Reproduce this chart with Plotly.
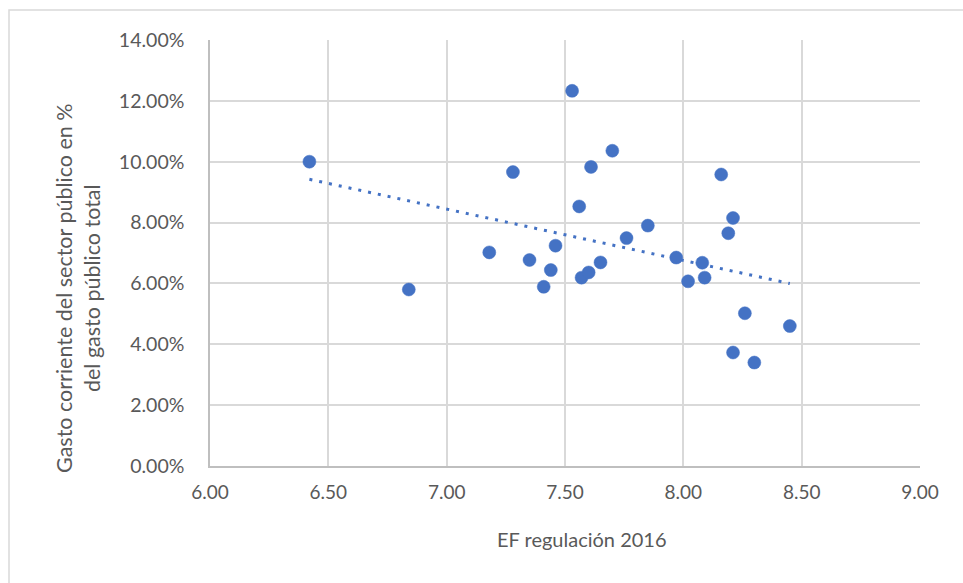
import numpy as np
import plotly.graph_objects as go

# EF regulación 2016 score per country
ef_regulacion = [6.42, 6.84, 7.18, 7.28, 7.35, 7.41, 7.44, 7.46, 7.53, 7.56,
                 7.57, 7.60, 7.61, 7.65, 7.70, 7.76, 7.85, 7.97, 8.02, 8.08,
                 8.09, 8.16, 8.19, 8.21, 8.21, 8.26, 8.30, 8.45]
# Current public-sector spending as % of total public spending
gasto_corriente = [10.00, 5.80, 7.02, 9.66, 6.77, 5.89, 6.44, 7.24, 12.33, 8.53,
                   6.19, 6.36, 9.83, 6.69, 10.36, 7.49, 7.90, 6.85, 6.07, 6.68,
                   6.19, 9.58, 7.65, 8.15, 3.73, 5.02, 3.40, 4.60]

x_ticks = [6.0, 6.5, 7.0, 7.5, 8.0, 8.5, 9.0]
y_ticks = [0, 2, 4, 6, 8, 10, 12, 14]
x_labels = [f"{v:.2f}" for v in x_ticks]
y_labels = [f"{v:.2f}%" for v in y_ticks]

x_title = "EF regulación 2016"
y_title = "Gasto corriente del sector público en %<br>del gasto público total"

BLUE = "#4472C4"
GRID = "#D9D9D9"
TEXT = "#595959"
FONT = "Lato, 'Open Sans', sans-serif"

W, H = 963, 583
ML, MR, MT, MB = 210, 43, 40, 117

# linear trend line over the observed x range
slope, intercept = np.polyfit(ef_regulacion, gasto_corriente, 1)
tx = [min(ef_regulacion), max(ef_regulacion)]
ty = [slope * v + intercept for v in tx]

fig = go.Figure()
fig.add_trace(go.Scatter(
    x=tx, y=ty, mode="lines",
    line=dict(color=BLUE, width=3, dash="3px,7px"),
    hoverinfo="skip", showlegend=False,
))
fig.add_trace(go.Scatter(
    x=ef_regulacion, y=gasto_corriente, mode="markers",
    marker=dict(color=BLUE, size=13, line=dict(color=BLUE, width=0.5)),
    showlegend=False,
))

# helpers: pixel position -> paper coordinates (relative to the plot area)
pw, ph = W - ML - MR, H - MT - MB
def px_to_paper_x(px):
    return (px - ML) / pw
def py_to_paper_y(py):
    return (H - MB - py) / ph

# outer chart frame
fig.add_shape(type="rect", xref="paper", yref="paper",
              x0=px_to_paper_x(9), x1=px_to_paper_x(W + 5),
              y0=py_to_paper_y(H + 5), y1=py_to_paper_y(10),
              line=dict(color="#D9D9D9", width=1.5), layer="below")

# axis titles
fig.add_annotation(text=x_title, xref="paper", yref="paper",
                   x=px_to_paper_x(582), y=py_to_paper_y(539),
                   xanchor="center", yanchor="middle", showarrow=False,
                   font=dict(size=20, color=TEXT, family=FONT))
fig.add_annotation(text=y_title, xref="paper", yref="paper",
                   x=px_to_paper_x(78), y=py_to_paper_y(288),
                   xanchor="center", yanchor="middle", showarrow=False,
                   textangle=-90,
                   font=dict(size=21.5, color=TEXT, family=FONT))

fig.update_layout(
    width=W, height=H,
    margin=dict(l=ML, r=MR, t=MT, b=MB),
    paper_bgcolor="white", plot_bgcolor="white",
    font=dict(family=FONT, color=TEXT, size=19),
    xaxis=dict(
        range=[6, 9], tickvals=x_ticks, ticktext=x_labels,
        showgrid=True, gridcolor=GRID, gridwidth=1.5,
        showline=True, linecolor="#BFBFBF", linewidth=1.5,
        zeroline=False, ticks="", ticklen=0, ticklabelstandoff=8,
        tickfont=dict(size=19, color=TEXT),
    ),
    yaxis=dict(
        range=[0, 14], tickvals=y_ticks, ticktext=y_labels,
        showgrid=True, gridcolor=GRID, gridwidth=1.5,
        showline=True, linecolor="#BFBFBF", linewidth=1.5,
        zeroline=False, ticks="", ticklen=0, ticklabelstandoff=20,
        tickfont=dict(size=19.5, color=TEXT),
    ),
)

fig.write_html("out.html")
